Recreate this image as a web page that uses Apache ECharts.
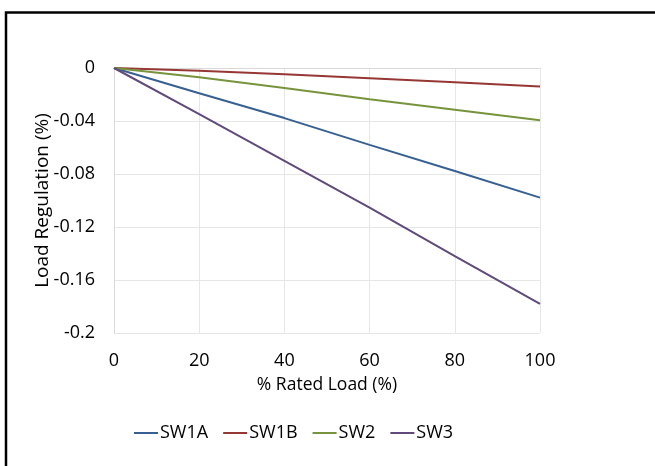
<!DOCTYPE html>
<html>
<head>
<meta charset="utf-8">
<script src="https://cdn.jsdelivr.net/npm/echarts@6/dist/echarts.min.js"></script>
<style>
html,body{margin:0;padding:0;background:#fff;}
#chart{width:655px;height:466px;}
</style>
</head>
<body>
<div id="chart"></div>
<script>
const loads = [0, 20, 40, 60, 80, 100];
const sw1a = [0, -0.0191, -0.0378, -0.0580, -0.0777, -0.0978];
const sw1b = [0, -0.0020, -0.0048, -0.0078, -0.0108, -0.0139];
const sw2  = [0, -0.0070, -0.0151, -0.0235, -0.0315, -0.0395];
const sw3  = [0, -0.0348, -0.0701, -0.1054, -0.1420, -0.1780];
const seriesNames = ['SW1A', 'SW1B', 'SW2', 'SW3'];
const colors = ['#376092', '#953735', '#77933C', '#604A7B'];
const allData = [sw1a, sw1b, sw2, sw3];

const font = '"Open Sans", sans-serif';
const chart = echarts.init(document.getElementById('chart'));
chart.setOption({
  animation: false,
  backgroundColor: '#fff',
  textStyle: { fontFamily: font },
  graphic: [{
    type: 'rect', left: 3.5, top: 10, silent: true,
    shape: { x: 0, y: 0, width: 680, height: 480 },
    style: { fill: 'none', stroke: '#000', lineWidth: 2.5 }
  }],
  grid: { left: 114, right: 115, top: 68, bottom: 133 },
  legend: {
    left: 129, top: 419,
    icon: 'rect', itemWidth: 24, itemHeight: 2, itemGap: 15,
    textStyle: { fontFamily: font, fontSize: 18, color: '#000', padding: [0, 0, 0, -3] },
    data: seriesNames
  },
  xAxis: {
    type: 'value', min: 0, max: 100, interval: 20,
    name: '% Rated Load (%)', nameLocation: 'middle', nameGap: 43,
    nameMoveOverlap: false,
    nameTextStyle: { fontFamily: font, fontSize: 17.5, color: '#000' },
    axisLine: { show: true, lineStyle: { color: '#D9D9D9' } },
    axisTick: { show: false },
    axisLabel: { fontFamily: font, fontSize: 18, color: '#000', margin: 19 },
    splitLine: { show: true, lineStyle: { color: '#E6E6E6' } }
  },
  yAxis: {
    type: 'value', min: -0.2, max: 0, interval: 0.04,
    name: 'Load Regulation (%)', nameLocation: 'middle', nameGap: 62,
    nameMoveOverlap: false,
    nameTextStyle: { fontFamily: font, fontSize: 19, color: '#000' },
    axisLine: { show: true, lineStyle: { color: '#D9D9D9' } },
    axisTick: { show: false },
    axisLabel: { fontFamily: font, fontSize: 18, color: '#000', margin: 19,
      formatter: v => String(parseFloat(v.toFixed(2))) },
    splitLine: { show: true, lineStyle: { color: '#E6E6E6' } }
  },
  series: allData.map((d, i) => ({
    name: seriesNames[i], type: 'line', showSymbol: false, symbol: 'none',
    data: loads.map((x, j) => [x, d[j]]),
    lineStyle: { color: colors[i], width: 2 },
    itemStyle: { color: colors[i] }
  }))
});
</script>
</body>
</html>
